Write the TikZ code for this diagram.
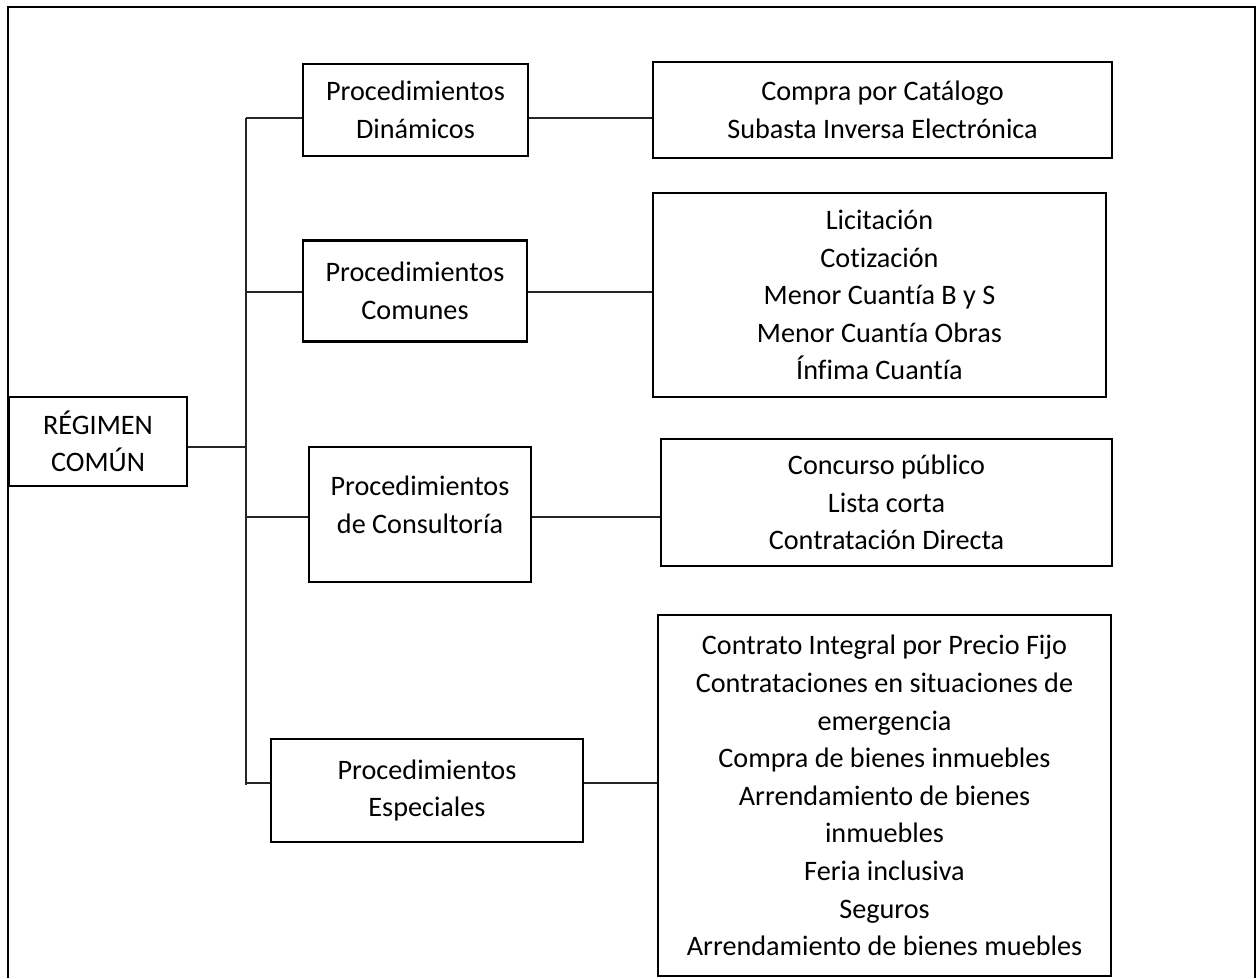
\documentclass[tikz,border=0pt]{standalone}
\usepackage{fontspec}
\setmainfont{Carlito}[Ligatures=NoCommon]
\usetikzlibrary{calc}
\tikzset{
  box/.style={draw=black, line width=2.6pt, inner sep=0pt, align=center,
    font=\fontsize{28.2}{37.6}\selectfont},
  link/.style={draw=black!85, line width=1.6pt},
  frame/.style={draw=black, line width=2.6pt},
}
\begin{document}
\begin{tikzpicture}[x=1pt, y=-1pt]
\useasboundingbox (0,0) rectangle (1256,978);
% open outer frame
\coordinate (fbl) at (8,978);
\coordinate (ftl) at (8,7);
\coordinate (ftr) at (1255,7);
\coordinate (fbr) at (1255,978);
\draw[frame] (fbl) -- (ftl) -- (ftr) -- (fbr);

% root
\node[box, minimum width=178pt, minimum height=89pt] (reg) at (98,441.5) {RÉGIMEN\\COMÚN};

% procedure groups
\node[box, minimum width=225pt, minimum height=92pt] (din) at (415.5,110) {Procedimientos\\Dinámicos};
\node[box, minimum width=224pt, minimum height=101pt] (com) at (415,291) {Procedimientos\\Comunes};
\node[box, minimum width=222pt, minimum height=135pt,
  label={[align=center, font=\fontsize{28.2}{37.6}\selectfont, yshift=9.5pt]center:Procedimientos\\de Consultoría}] (cons) at (420,514.5) {};
\node[box, minimum width=312pt, minimum height=103pt] (esp) at (427,790.5) {Procedimientos\\Especiales};

% procedure lists
\node[box, minimum width=459pt, minimum height=96pt] (cmp) at (882.5,110) {Compra por Catálogo\\Subasta Inversa Electrónica};
\node[box, minimum width=453pt, minimum height=204pt] (lic) at (879.5,295) {Licitación\\Cotización\\Menor Cuantía B y S\\Menor Cuantía Obras\\Ínfima Cuantía};
\node[box, minimum width=451pt, minimum height=127pt] (conc) at (886.5,502.5) {Concurso público\\Lista corta\\Contratación Directa};
\node[box, minimum width=453pt, minimum height=361pt] (ctr) at (884.5,795.5) {Contrato Integral por Precio Fijo\\Contrataciones en situaciones de\\emergencia\\Compra de bienes inmuebles\\Arrendamiento de bienes\\inmuebles\\Feria inclusiva\\Seguros\\Arrendamiento de bienes muebles};

% trunk and junctions
\coordinate (j0) at (246,447);
\coordinate (j1) at (246,118);
\coordinate (j2) at (246,292);
\coordinate (j3) at (246,517);
\coordinate (j4) at (246,783);
\coordinate (jend) at (246,785);
\draw[link] (j1) -- (jend);
\draw[link] (reg.east |- j0) -- (j0);

\draw[link] (j1) -- (din.west |- j1);
\draw[link] (din.east |- j1) -- (cmp.west |- j1);
\draw[link] (j2) -- (com.west |- j2);
\draw[link] (com.east |- j2) -- (lic.west |- j2);
\draw[link] (j3) -- (cons.west |- j3);
\draw[link] (cons.east |- j3) -- (conc.west |- j3);
\draw[link] (j4) -- (esp.west |- j4);
\draw[link] (esp.east |- j4) -- (ctr.west |- j4);
\end{tikzpicture}
\end{document}
